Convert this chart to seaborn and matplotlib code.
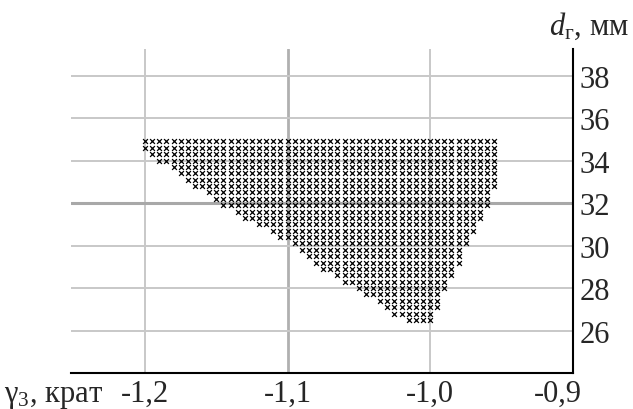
import numpy as np
import pandas as pd
import matplotlib
matplotlib.use("Agg")
import matplotlib.pyplot as plt
import matplotlib.transforms as mtransforms
import seaborn as sns

# ── Data ──────────────────────────────────────────────────────────────────────
# rows of the feasible region: d_г value and leftmost / rightmost γ3 point
row_d = [34.9, 34.6, 34.3, 34.0, 33.7, 33.4, 33.1, 32.8, 32.5, 32.2,
         31.9, 31.6, 31.3, 31.0, 30.7, 30.4, 30.1, 29.8, 29.5, 29.2,
         28.9, 28.6, 28.3, 28.0, 27.7, 27.4, 27.1, 26.8, 26.5]
row_left = [-1.200, -1.200, -1.195, -1.190, -1.180, -1.175, -1.170, -1.165, -1.155, -1.150,
            -1.145, -1.135, -1.130, -1.120, -1.110, -1.105, -1.095, -1.090, -1.085, -1.080,
            -1.075, -1.065, -1.060, -1.050, -1.045, -1.035, -1.030, -1.025, -1.015]
row_right = [-0.955, -0.955, -0.955, -0.955, -0.955, -0.955, -0.955, -0.955, -0.960, -0.960,
             -0.960, -0.965, -0.965, -0.970, -0.970, -0.975, -0.975, -0.980, -0.980, -0.980,
             -0.985, -0.985, -0.990, -0.990, -0.995, -0.995, -0.995, -1.000, -1.000]
gamma_step = 0.005

x_ticks = [-1.2, -1.1, -1.0, -0.9]
x_ticklabels = ["-1,2", "-1,1", "-1,0", "-0,9"]
y_ticks = [26, 28, 30, 32, 34, 36, 38]

# lattice points of every row
pts = []
for d, lo, hi in zip(row_d, row_left, row_right):
    n = int(round((hi - lo) / gamma_step)) + 1
    for k in range(n):
        pts.append((lo + k * gamma_step, d))
df = pd.DataFrame(pts, columns=["gamma", "d"])

# ── Style ─────────────────────────────────────────────────────────────────────
sns.set_style("white")
plt.rcParams["font.family"] = ["Liberation Serif", "DejaVu Serif"]
plt.rcParams["mathtext.fontset"] = "custom"
plt.rcParams["mathtext.rm"] = "Liberation Serif"
plt.rcParams["mathtext.it"] = "Liberation Serif:italic"

fig = plt.figure(figsize=(6.33, 4.10), dpi=100)
ax = fig.add_axes([71 / 633, 1 - 374 / 410, (572.5 - 71) / 633, (374 - 50) / 410])

sns.scatterplot(data=df, x="gamma", y="d", marker="x", color="black",
                s=12, linewidth=0.9, ax=ax, zorder=3, legend=False)

ax.set_xlim(-1.252, -0.9)
ax.set_ylim(24, 39.25)
ax.set_xticks(x_ticks)
ax.set_xticklabels(x_ticklabels)
ax.set_yticks(y_ticks)
ax.yaxis.tick_right()
ax.tick_params(axis="both", length=0, labelsize=22)
ax.tick_params(axis="x", pad=4)
ax.tick_params(axis="y", pad=5)
ax.set_xlabel("")
ax.set_ylabel("")

ax.set_axisbelow(True)
ax.grid(True, color="#c8c8c8", linewidth=1.4)
for t, v in zip(ax.yaxis.get_major_ticks(), y_ticks):
    if v == 32:
        t.gridline.set_color("#a8a8a8")
        t.gridline.set_linewidth(2.2)
for t, v in zip(ax.xaxis.get_major_ticks(), x_ticks):
    if v == -1.1:
        t.gridline.set_color("#b0b0b0")
        t.gridline.set_linewidth(2.0)

for side in ["top", "left"]:
    ax.spines[side].set_visible(False)
for side in ["right", "bottom"]:
    ax.spines[side].set_visible(True)
    ax.spines[side].set_color("black")
    ax.spines[side].set_linewidth(1.5)

# last x label sits a bit left of its gridline in the original
lab = ax.get_xticklabels()[-1]
lab.set_transform(lab.get_transform() + mtransforms.ScaledTranslation(-15 / 100, 0, fig.dpi_scale_trans))

# axis titles
fig.text(4 / 633, 1 - 402 / 410, "γ$_3$, крат", fontsize=22, ha="left", va="baseline")
fig.text(629 / 633, 1 - 35 / 410, r"$d_{\mathrm{г}}$, мм", fontsize=22, ha="right", va="baseline")

fig.savefig("out.png", dpi=100)
